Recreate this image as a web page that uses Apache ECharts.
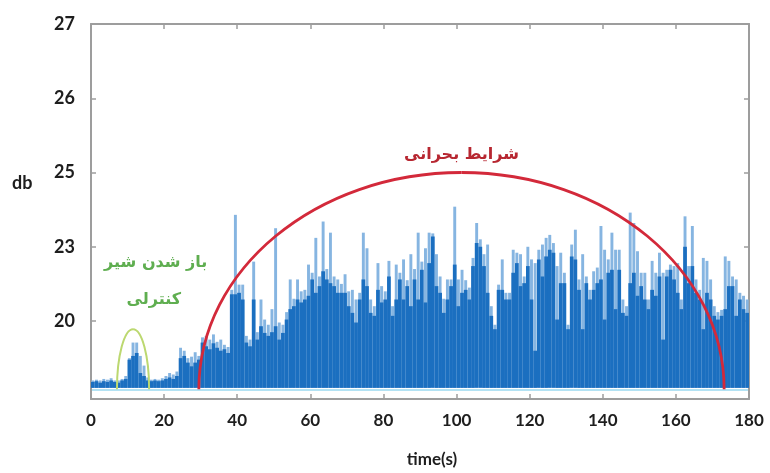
<!DOCTYPE html>
<html><head><meta charset="utf-8">
<script src="https://cdn.jsdelivr.net/npm/echarts@6/dist/echarts.min.js"></script>
<style>html,body{margin:0;padding:0;background:#fff}#c{width:770px;height:473px}</style>
</head><body><div id="c"></div>
<script>
// one sample per second, t = 0 .. 179 (axis position units; labels map to dB)
const sampleStart = 0;
const sampleStep = 1;
// dense body of the signal (dark blue)
const bodyValues = [
  0.18,0.19,0.17,0.19,0.18,0.2,0.18,0.17,0.2,0.22,
  0.48,0.53,0.57,0.3,0.26,0.2,0.19,0.2,0.19,0.2,
  0.22,0.24,0.22,0.26,0.5,0.53,0.44,0.39,0.44,0.48,
  0.71,0.66,0.62,0.7,0.64,0.6,0.62,0.57,1.36,1.36,
  1.38,1.29,0.71,0.66,1.29,0.75,0.93,0.84,0.8,0.85,
  0.93,0.75,0.84,1.02,1.16,1.2,1.29,1.25,1.29,1.34,
  1.56,1.38,1.47,1.67,1.56,1.51,1.47,1.38,1.38,1.38,
  1.2,1.11,0.98,1.29,1.56,1.47,1.11,1.07,1.42,1.25,
  1.29,1.6,1.07,1.29,1.56,1.29,1.47,1.2,1.56,1.29,
  1.69,1.25,1.78,2.14,1.47,1.38,1.11,1.29,1.47,1.76,
  1.2,1.38,1.42,1.29,1.74,2.05,2.0,1.74,1.38,1.07,
  0.89,1.42,1.42,1.29,1.29,1.65,1.78,1.47,1.51,1.74,
  1.29,0.6,1.83,1.6,1.87,1.96,1.92,1.02,1.51,1.51,
  0.89,1.87,1.83,1.42,0.89,1.51,1.29,1.42,1.51,1.56,
  1.02,1.65,1.69,1.16,1.69,1.11,1.07,1.51,1.65,1.34,
  1.47,1.29,1.16,1.42,1.34,1.6,0.75,1.6,1.69,1.56,
  1.38,1.16,2.0,1.51,1.74,1.38,1.29,0.89,1.38,1.29,
  1.07,1.02,1.07,1.16,1.47,1.47,1.07,1.29,1.16,1.11
];
// peak spikes of the signal (light blue)
const peakValues = [
  0.2,0.21,0.2,0.22,0.21,0.23,0.2,0.2,0.22,0.26,
  0.5,0.71,0.71,0.53,0.4,0.24,0.21,0.22,0.21,0.23,
  0.26,0.3,0.28,0.32,0.64,0.6,0.5,0.52,0.58,0.53,
  0.78,0.8,0.75,0.82,0.72,0.75,0.68,0.65,1.42,2.43,
  1.49,1.49,0.8,0.75,1.8,0.85,1.29,1.02,0.95,1.16,
  2.25,0.98,0.95,1.12,1.56,1.3,1.56,1.4,1.42,1.76,
  1.65,2.12,1.6,2.34,1.7,2.19,1.6,1.56,1.5,1.63,
  1.4,1.42,1.29,1.38,2.19,1.98,1.29,1.2,1.78,1.47,
  1.4,1.81,1.2,1.76,1.65,1.83,1.55,1.9,1.7,2.19,
  1.8,1.98,2.19,2.18,1.9,1.6,1.3,1.56,1.56,2.54,
  1.56,1.69,1.55,1.45,1.85,2.32,2.1,1.9,2.03,1.2,
  0.95,1.49,1.83,1.38,1.38,1.96,1.92,1.9,1.6,2.0,
  1.83,1.78,1.96,2.03,2.12,2.16,2.05,1.74,1.92,1.65,
  0.95,2.03,2.23,1.56,1.9,1.6,1.42,1.67,1.72,2.28,
  1.96,1.83,2.19,1.96,1.96,1.29,1.2,2.46,2.32,1.94,
  1.65,1.65,1.29,1.81,1.65,1.92,1.65,1.69,1.76,1.74,
  1.78,1.29,2.41,1.74,2.28,1.56,1.42,1.85,1.81,1.56,
  1.2,1.12,1.15,1.87,1.81,1.6,1.56,1.38,1.34,1.29
];
const yTickPositions = [1, 2, 3, 4, 5];
const yTickLabels = ['20', '23', '25', '26', '27'];
const xMin = 0, xMax = 180, xStep = 20;

// annotation anchors in data coordinates
const criticalSpan = [29.5, 173.2], criticalTop = 3.0;
const valveSpan = [7.1, 15.9], valveTop = 0.89;
const signalBase = 0.1, baseLine = 0.07;

const chart = echarts.init(document.getElementById('c'));
const FONT = 'Lato, "DejaVu Sans", sans-serif';
const GRAY = '#9d9d9d';

function series(values) {
  return values.map((v, i) => [sampleStart + i * sampleStep, v]);
}
function barRenderer(frac) {
  return function (params, api) {
    const t = api.value(0), v = api.value(1);
    const a = api.coord([t + sampleStep * (1 - frac) / 2, signalBase]);
    const b = api.coord([t + sampleStep * (1 + frac) / 2, v]);
    return { type: 'rect',
      shape: { x: a[0], y: b[1], width: b[0] - a[0], height: a[1] - b[1] },
      style: { fill: api.visual('color') } };
  };
}
const axisCommon = {
  axisLine: { show: true, onZero: false, lineStyle: { color: GRAY, width: 2 } },
  axisTick: { show: true, inside: true, length: 5, lineStyle: { color: GRAY, width: 1.5 } },
  splitLine: { show: false }
};
chart.setOption({
  animation: false,
  grid: { left: 91, right: 21, top: 24, bottom: 73 },
  xAxis: [
    Object.assign({ type: 'value', min: xMin, max: xMax, interval: xStep, position: 'bottom',
      axisLabel: { margin: 13, fontFamily: FONT, fontWeight: 'bold', fontSize: 17, color: '#1e1e1e' },
      name: 'time(s)', nameLocation: 'middle', nameGap: 52,
      nameTextStyle: { fontFamily: FONT, fontWeight: 'bold', fontSize: 17, color: '#1e1e1e', padding: [0, 0, 0, 24] }
    }, axisCommon),
    Object.assign({ type: 'value', min: xMin, max: xMax, interval: xStep, position: 'top',
      axisLabel: { show: false } }, axisCommon)
  ],
  yAxis: [
    Object.assign({ type: 'value', min: -0.05, max: 5, position: 'left',
      axisLabel: { customValues: yTickPositions, margin: 16, fontFamily: FONT, fontWeight: 'bold', fontSize: 18, color: '#1e1e1e',
        formatter: v => yTickLabels[yTickPositions.indexOf(Math.round(v))] || '' } }, axisCommon,
      { axisTick: Object.assign({}, axisCommon.axisTick, { customValues: yTickPositions }) }),
    Object.assign({ type: 'value', min: -0.05, max: 5, position: 'right',
      axisLabel: { show: false } }, axisCommon,
      { axisTick: Object.assign({}, axisCommon.axisTick, { customValues: yTickPositions }) })
  ],
  series: [
    { type: 'custom', name: 'peak', renderItem: barRenderer(0.8), itemStyle: { color: '#86b5e1' },
      data: series(peakValues), encode: { x: 0, y: 1 }, clip: true, z: 2 },
    { type: 'custom', name: 'body', renderItem: barRenderer(1.02), itemStyle: { color: '#1b6fc0' },
      data: series(bodyValues), encode: { x: 0, y: 1 }, clip: true, z: 3 }
  ]
});

function px(t, v) { return chart.convertToPixel({ gridIndex: 0 }, [t, v]); }
function halfEllipse(span, top, base, color, width) {
  const L = px(span[0], base), R = px(span[1], base);
  const T = px((span[0] + span[1]) / 2, top);
  const rx = (R[0] - L[0]) / 2, ry = L[1] - T[1], k = 0.5523;
  const st = { stroke: color, lineWidth: width, fill: null };
  return [
    { type: 'bezierCurve', z: 50, shape: { x1: L[0], y1: L[1], x2: T[0], y2: T[1],
      cpx1: L[0], cpy1: L[1] - k * ry, cpx2: T[0] - k * rx, cpy2: T[1] }, style: st },
    { type: 'bezierCurve', z: 50, shape: { x1: T[0], y1: T[1], x2: R[0], y2: R[1],
      cpx1: T[0] + k * rx, cpy1: T[1], cpx2: R[0], cpy2: R[1] - k * ry }, style: st }
  ];
}
const b0 = px(xMin, baseLine), b1 = px(xMax, baseLine);
const critText = px((criticalSpan[0] + criticalSpan[1]) / 2, 3.24);
const valveText1 = px(17.7, 1.78);
const valveText2 = px(17.2, 1.28);
chart.setOption({
  graphic: [
    { type: 'line', z: 40, shape: { x1: b0[0] + 1, y1: b0[1], x2: b1[0] - 1, y2: b1[1] },
      style: { stroke: '#b3e2f3', lineWidth: 2 } },
    ...halfEllipse(criticalSpan, criticalTop, signalBase - 0.02, '#d3293a', 2.8),
    ...halfEllipse(valveSpan, valveTop, signalBase - 0.02, '#bcd870', 2),
    { type: 'text', z: 60, x: critText[0], y: critText[1],
      style: { text: 'شرایط بحرانی', fill: '#b72731', font: 'bold 16px "DejaVu Sans", sans-serif',
        align: 'center', verticalAlign: 'middle' } },
    { type: 'text', z: 60, x: valveText1[0], y: valveText1[1],
      style: { text: 'باز شدن شیر', fill: '#5fae50', font: 'bold 16px "DejaVu Sans", sans-serif',
        align: 'center', verticalAlign: 'middle' } },
    { type: 'text', z: 60, x: valveText2[0], y: valveText2[1],
      style: { text: 'کنترلی', fill: '#5fae50', font: 'bold 16px "DejaVu Sans", sans-serif',
        align: 'center', verticalAlign: 'middle' } },
    { type: 'text', z: 60, left: 12, top: 174,
      style: { text: 'db', fill: '#1e1e1e', font: 'bold 18px Lato, sans-serif' } }
  ]
});
</script></body></html>
